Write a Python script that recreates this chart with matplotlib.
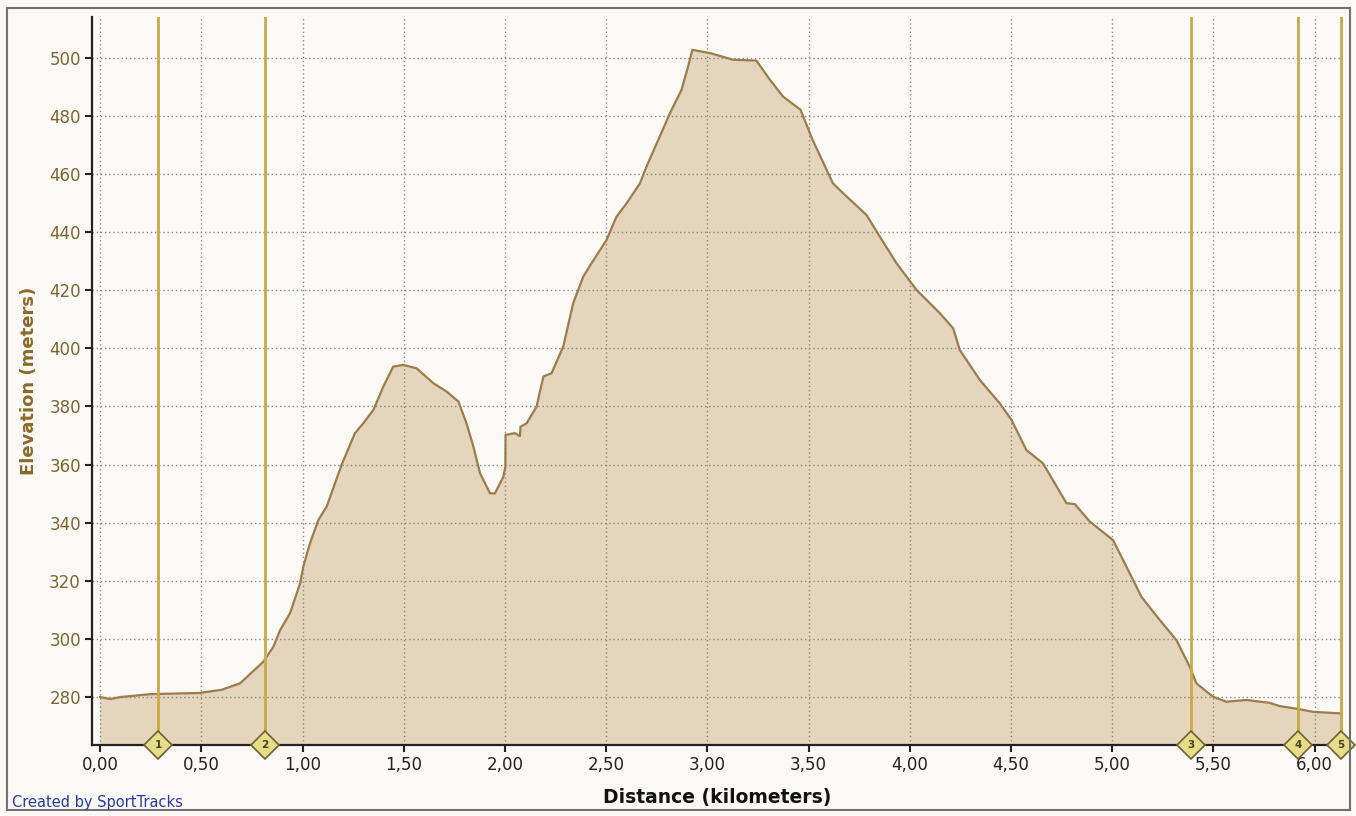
import matplotlib
matplotlib.use("Agg")
import matplotlib.pyplot as plt
from matplotlib.patches import Rectangle
from matplotlib.ticker import FuncFormatter

distance_km = [0.000, 0.050, 0.100, 0.250, 0.490, 0.600, 0.691, 0.807, 0.856, 0.889, 0.938, 0.988,
               1.004, 1.037, 1.078, 1.119, 1.193, 1.259, 1.300, 1.350, 1.399, 1.448, 1.498, 1.564,
               1.646, 1.712, 1.770, 1.810, 1.844, 1.877, 1.926, 1.951, 1.992, 2.002, 2.003, 2.049,
               2.074, 2.077, 2.107, 2.156, 2.190, 2.230, 2.288, 2.337, 2.387, 2.428, 2.502, 2.551,
               2.601, 2.667, 2.699, 2.765, 2.815, 2.872, 2.905, 2.926, 3.012, 3.127, 3.242, 3.309,
               3.374, 3.460, 3.520, 3.620, 3.670, 3.786, 3.852, 3.934, 4.033, 4.148, 4.214, 4.247,
               4.346, 4.444, 4.502, 4.576, 4.658, 4.774, 4.815, 4.889, 5.004, 5.103, 5.144, 5.235,
               5.317, 5.383, 5.416, 5.498, 5.564, 5.663, 5.778, 5.827, 5.926, 5.992, 6.123, 6.140]
elevation_m = [280.0, 279.3, 280.0, 281.0, 281.4, 282.5, 284.7, 292.2, 297.3, 303.0, 308.8, 319.1,
               324.9, 332.9, 340.9, 345.5, 359.9, 370.8, 374.2, 378.8, 386.8, 393.7, 394.3, 393.1,
               388.0, 385.1, 381.7, 374.2, 366.2, 357.0, 350.1, 350.1, 355.8, 359.3, 370.2, 370.8,
               369.8, 373.0, 374.2, 379.9, 390.3, 391.4, 400.6, 415.5, 424.7, 429.3, 437.3, 445.3,
               449.9, 456.8, 462.5, 472.9, 480.9, 488.9, 497.0, 502.7, 501.6, 499.3, 499.0, 492.4,
               486.6, 482.1, 471.7, 456.8, 453.4, 445.9, 438.4, 429.3, 420.1, 412.1, 406.9, 399.4,
               389.1, 381.1, 375.4, 365.0, 360.4, 346.7, 346.4, 340.4, 334.0, 320.3, 314.5, 306.5,
               299.6, 290.4, 284.7, 280.1, 278.4, 279.0, 278.0, 276.9, 275.8, 274.9, 274.4, 274.4]
marker_km = [0.286, 0.815, 5.39, 5.92, 6.13]
marker_labels = ["1", "2", "3", "4", "5"]
x_ticks = [0.0, 0.5, 1.0, 1.5, 2.0, 2.5, 3.0, 3.5, 4.0, 4.5, 5.0, 5.5, 6.0]
y_ticks = [280, 300, 320, 340, 360, 380, 400, 420, 440, 460, 480, 500]

plt.rcParams['font.family'] = ['DejaVu Sans']
bg = '#fbf9f5'
fig = plt.figure(figsize=(13.56, 8.16), dpi=100, facecolor=bg)
fig.patches.append(Rectangle((7/1356, 6/816), 1343/1356, 802/816, transform=fig.transFigure,
                             fill=False, edgecolor='#707070', linewidth=1.5))
ax = fig.add_axes([92/1356, 71/816, 1251/1356, 728/816])
ax.set_facecolor(bg)

ax.fill_between(distance_km, elevation_m, 200, color='#e4d5bc', linewidth=0, zorder=1)
ax.plot(distance_km, elevation_m, color='#9c7c48', linewidth=1.6, zorder=3)

ax.set_xlim(-0.04, 6.14)
ax.set_ylim(263.5, 514)
ax.set_xticks(x_ticks)
ax.set_yticks(y_ticks)
ax.xaxis.set_major_formatter(FuncFormatter(lambda v, p: f"{v:.2f}".replace('.', ',')))
ax.yaxis.set_major_formatter(FuncFormatter(lambda v, p: f"{int(v)}"))
ax.grid(True, color='#8a8a8a', linestyle=(0, (1, 2)), linewidth=1.0, zorder=2)
ax.set_axisbelow(False)

for s in ['top', 'right']:
    ax.spines[s].set_visible(False)
for s in ['left', 'bottom']:
    ax.spines[s].set_color('#222222')
    ax.spines[s].set_linewidth(1.6)
    ax.spines[s].set_zorder(6)

ax.tick_params(axis='y', colors='#222222', labelcolor='#7a6630', labelsize=12, length=5, width=1.5, pad=3)
ax.tick_params(axis='x', colors='#222222', labelcolor='#222222', labelsize=12, length=5, width=1.5, pad=3)
ax.set_ylabel('Elevation (meters)', fontsize=13, fontweight='bold', color='#8a6a2a', labelpad=8)
ax.set_xlabel('Distance (kilometers)', fontsize=13.5, fontweight='bold', color='#111111', labelpad=10)

for xm, lab in zip(marker_km, marker_labels):
    ax.axvline(xm, color='#c9aa45', linewidth=2.0, zorder=4)
    ax.plot([xm], [263.5], marker='D', markersize=14, markerfacecolor='#e6dc8a',
            markeredgecolor='#6e6030', markeredgewidth=1.2, clip_on=False, zorder=7)
    ax.text(xm, 263.5, lab, fontsize=7.5, fontweight='bold', ha='center', va='center',
            color='#4a4020', zorder=8, clip_on=False)

fig.text(12/1356, 1 - 803/816, 'Created by SportTracks', color='#2a3aa0', fontsize=10.5,
         ha='left', va='center')

fig.savefig('out.png', dpi=100, facecolor=bg)
